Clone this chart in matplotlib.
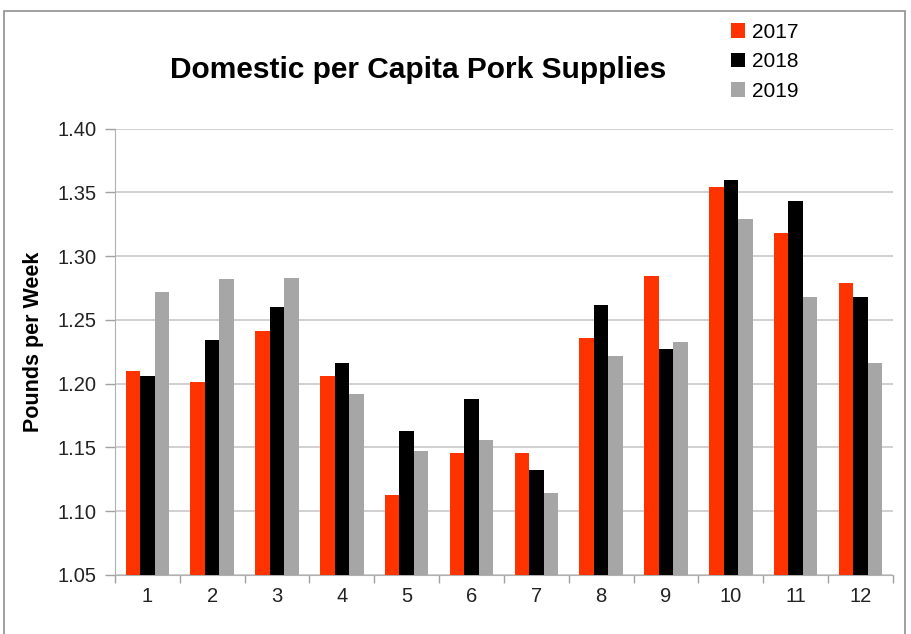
import matplotlib.pyplot as plt
import matplotlib.patches as mpatches
import numpy as np

plt.rcParams['font.family'] = ['Liberation Sans', 'DejaVu Sans']

months = ["1", "2", "3", "4", "5", "6", "7", "8", "9", "10", "11", "12"]
pork_2017 = [1.210, 1.201, 1.241, 1.206, 1.113, 1.146, 1.146, 1.236, 1.284, 1.354, 1.318, 1.279]
pork_2018 = [1.206, 1.234, 1.260, 1.216, 1.163, 1.188, 1.132, 1.262, 1.227, 1.360, 1.343, 1.268]
pork_2019 = [1.272, 1.282, 1.283, 1.192, 1.147, 1.156, 1.114, 1.222, 1.233, 1.329, 1.268, 1.216]
years = ["2017", "2018", "2019"]
colors = ["#FF3300", "#000000", "#A6A6A6"]

fig = plt.figure(figsize=(9.11, 6.34), dpi=100)
ax = fig.add_axes([0.1262, 0.0931, 0.8540, 0.7042])

x = np.arange(len(months))
w = 0.224
series = [pork_2017, pork_2018, pork_2019]
bars = []
for i, (vals, c, lab) in enumerate(zip(series, colors, years)):
    b = ax.bar(x + (i - 1) * w, np.array(vals) - 1.05, width=w, bottom=1.05,
               color=c, label=lab, zorder=3, linewidth=0)
    bars.append(b)

ax.set_xlim(-0.5, len(months) - 0.5)
ax.set_ylim(1.05, 1.40)
yt = np.arange(1.05, 1.401, 0.05)
ax.set_yticks(yt)
ax.set_yticklabels([f"{v:.2f}" for v in yt], fontsize=14.5, color="#222222")
ax.set_xticks(x)
ax.set_xticklabels(months, fontsize=14.5, color="#222222")
ax.set_xticks(np.arange(-0.5, len(months), 1), minor=True)
ax.tick_params(axis="x", which="major", length=0, pad=9)
ax.tick_params(axis="x", which="minor", length=6, color="#A0A0A0", width=1)
ax.tick_params(axis="y", length=7, color="#A0A0A0", width=1, pad=6)

ax.grid(axis="y", color="#C8C8C8", linewidth=1.2, zorder=0)
for s in ["top", "right"]:
    ax.spines[s].set_visible(False)
ax.spines["left"].set_color("#B0B0B0")
ax.spines["bottom"].set_color("#B0B0B0")

ax.set_ylabel("Pounds per Week", fontsize=15.5, fontweight="bold")
ax.yaxis.set_label_coords(-0.091, 0.523)
fig.text(0.459, 0.890, "Domestic per Capita Pork Supplies", fontsize=21.5,
         fontweight="bold", ha="center", va="center")

fig.legend(handles=bars, labels=years, loc="upper left", bbox_to_anchor=(0.793, 0.977),
           frameon=False, fontsize=15, handlelength=0.7, handleheight=0.7,
           handletextpad=0.3, labelspacing=0.5, borderaxespad=0)

# outer chart border
fig.patches.append(mpatches.Rectangle((4 / 911, -0.05), 901 / 911, 1.05 - 11 / 634,
                                      transform=fig.transFigure, fill=False,
                                      edgecolor="#909090", linewidth=1.2))

fig.savefig("out.png", dpi=100)
